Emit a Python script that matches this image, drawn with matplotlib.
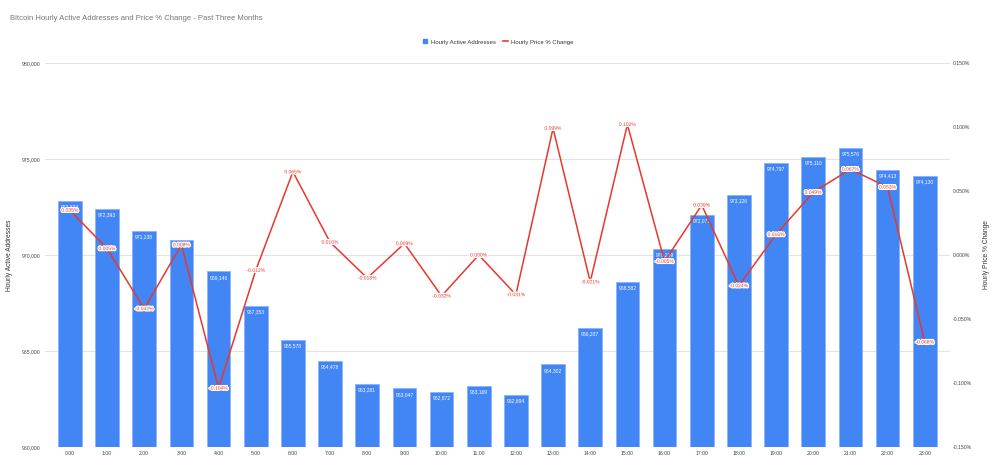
import matplotlib
matplotlib.use("Agg")
import matplotlib.pyplot as plt
import matplotlib.patheffects as pe
from matplotlib.ticker import FuncFormatter, MultipleLocator
from matplotlib.lines import Line2D

plt.rcParams['font.family'] = ['Liberation Sans', 'DejaVu Sans']

hours = [f"{h}:00" for h in range(24)]
active_addresses = [972834, 972393, 971238, 970804, 969146, 967353, 965578, 964478,
                    963281, 963047, 962872, 963169, 962694, 964302, 966207, 968582,
                    970299, 972071, 973126, 974797, 975110, 975576, 974413, 974130]
price_change = [0.035, 0.005, -0.042, 0.008, -0.104, -0.012, 0.065, 0.010,
                -0.018, 0.009, -0.032, 0.000, -0.031, 0.099, -0.021, 0.102,
                -0.005, 0.039, -0.024, 0.016, 0.049, 0.067, 0.053, -0.068]

title = "Bitcoin Hourly Active Addresses and Price % Change - Past Three Months"
bar_name = "Hourly Active Addresses"
line_name = "Hourly Price % Change"

BLUE = "#4285F4"
RED = "#E8382D"

fig = plt.figure(figsize=(10, 4.69), dpi=100)
ax = fig.add_axes([0.045, 1 - 447 / 469, 0.905, (447 - 63) / 469])
ax2 = ax.twinx()

x = list(range(len(hours)))
ax.bar(x, active_addresses, width=0.64, color=BLUE, edgecolor="#8AB4F8",
       linewidth=0.6, zorder=2, label=bar_name)
ax.set_ylim(960000, 980000)
ax.yaxis.set_major_locator(MultipleLocator(5000))
ax.yaxis.set_major_formatter(FuncFormatter(lambda v, p: f"{int(v):,}"))
ax.set_xlim(-0.67, 23.68)
ax.set_xticks(x)
ax.set_xticklabels(hours)
ax.grid(axis='y', color="#E3E3E3", linewidth=0.8, zorder=0)
ax.set_axisbelow(True)
for s in ax.spines.values():
    s.set_visible(False)
for s in ax2.spines.values():
    s.set_visible(False)
ax.tick_params(axis='both', length=0, labelsize=3.7, colors="#444444")
ax.tick_params(axis='x', pad=3)
ax.tick_params(axis='y', pad=3)

for xi, v in zip(x, active_addresses):
    ax.annotate(f"{v:,}", (xi, v), xytext=(0, -2.5), textcoords='offset points',
                ha='center', va='top', fontsize=3.6, color='white', zorder=5)

ax2.plot(x, price_change, color=RED, linewidth=1.1, zorder=4, label=line_name)
ax2.set_ylim(-0.15, 0.15)
ax2.yaxis.set_major_locator(MultipleLocator(0.05))
ax2.yaxis.set_major_formatter(FuncFormatter(lambda v, p: f"{v:.3f}%"))
ax2.tick_params(axis='y', length=0, labelsize=3.7, colors="#444444", pad=2)
for xi, v in zip(x, price_change):
    ax2.text(xi, v, f"{v:.3f}%", ha='center', va='center', fontsize=3.6, color=RED,
             zorder=6, path_effects=[pe.withStroke(linewidth=1.8, foreground='white')])

ax.set_ylabel(bar_name, fontsize=4.8, color="#333333")
ax.yaxis.set_label_coords((13 - 45) / 905, 0.5)
ax2.set_ylabel(line_name, fontsize=4.8, color="#333333", rotation=90)
ax2.yaxis.set_label_coords((983 - 45) / 905, 0.5)

fig.text(0.01, 1 - 18 / 469, title, fontsize=5.5, color="#757575", ha='left', va='center')

handles = [Line2D([], [], marker='s', linestyle='none', color=BLUE, markersize=3.2),
           Line2D([], [], color=RED, linewidth=1.2)]
fig.legend(handles, [bar_name, line_name], loc='center', bbox_to_anchor=(0.498, 1 - 42 / 469),
           ncol=2, frameon=False, fontsize=4.3, handlelength=0.9, handletextpad=0.5,
           columnspacing=1.2, labelcolor="#333333")

fig.savefig("out.png", dpi=100, facecolor='white')
